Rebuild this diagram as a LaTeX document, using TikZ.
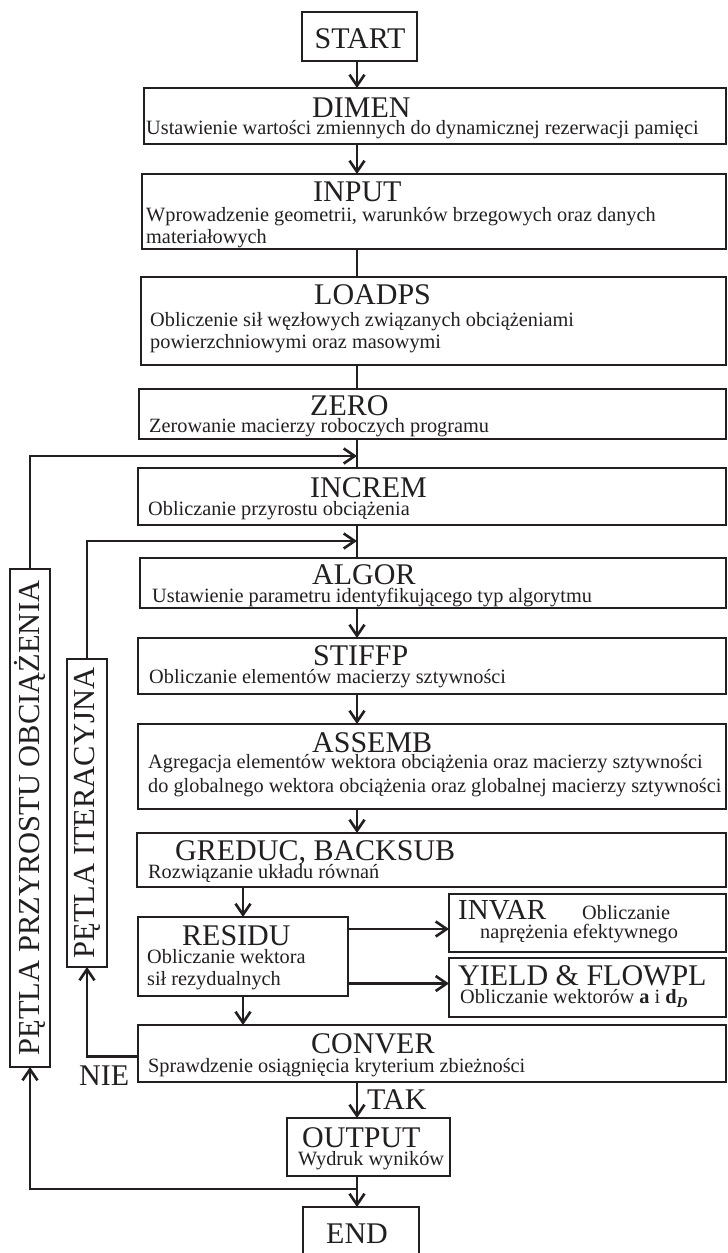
\documentclass[tikz,border=0pt]{standalone}
\usepackage{fontspec}
\setmainfont{Liberation Serif}
\usetikzlibrary{arrows.meta}
\definecolor{ink}{RGB}{35,31,32}
\newcommand\mybox[5]{\node[box, minimum width={#4-#2}, minimum height={#5-#3}] (#1) at (#2,#3) {};}
\begin{document}
\begin{tikzpicture}[x=1pt,y=-1pt,
  box/.style={draw=ink, line width=2.8pt, inner sep=0pt, outer sep=0pt, anchor=north west},
  ttl/.style={anchor=base west, inner sep=0pt, text=ink, font=\fontsize{30}{32}\selectfont},
  sub/.style={anchor=base west, inner sep=0pt, text=ink, font=\fontsize{20.3}{24}\selectfont},
  vlbl/.style={inner sep=0pt, text=ink, rotate=90, font=\fontsize{30.5}{32}\selectfont},
  conn/.style={draw=ink, line width=2.6pt},
  arr/.style={conn, -{Straight Barb[length=11pt,width=15pt]}}]
\useasboundingbox (0,0) rectangle (728,1253);
\clip (0,0) rectangle (728,1253);
\fill[white] (0,0) rectangle (728,1253);

% boxes
\mybox{start}{302}{12}{417}{61}
\mybox{dimen}{144}{88}{726}{144}
\mybox{input}{142}{174}{726}{249}
\mybox{loadps}{141}{277}{726}{365}
\mybox{zero}{139}{389}{726}{439}
\mybox{increm}{138}{468}{726}{525}
\mybox{algor}{140}{558}{726}{608}
\mybox{stiffp}{138}{638}{726}{694}
\mybox{assemb}{138}{724}{726}{809}
\mybox{greduc}{137}{833}{726}{887}
\mybox{residu}{138}{917}{348}{996}
\mybox{invar}{449}{894}{726}{952}
\mybox{yield}{449}{958}{726}{1017}
\mybox{conver}{138}{1025}{726}{1082}
\mybox{output}{287}{1118}{450}{1176}
\mybox{end}{303}{1207}{419}{1275}
\mybox{outer}{10}{569}{50}{1067}
\mybox{inner}{67}{659}{107}{967}

% texts
\node[ttl, anchor=base] (t-start) at (360,48) {START};
\node[ttl] (t-dimen) at (312,117) {DIMEN};
\node[sub] (s-dimen) at (146,134) {Ustawienie wartości zmiennych do dynamicznej rezerwacji pamięci};
\node[ttl] (t-input) at (313,201) {INPUT};
\node[sub] (s-input1) at (146,221) {Wprowadzenie geometrii, warunków brzegowych oraz danych};
\node[sub] (s-input2) at (146,243) {materiałowych};
\node[ttl] (t-loadps) at (314,304) {LOADPS};
\node[sub] (s-loadps1) at (150,326) {Obliczenie sił węzłowych związanych obciążeniami};
\node[sub] (s-loadps2) at (150,348) {powierzchniowymi oraz masowymi};
\node[ttl] (t-zero) at (310,415) {ZERO};
\node[sub] (s-zero) at (149,432) {Zerowanie macierzy roboczych programu};
\node[ttl] (t-increm) at (310,497) {INCREM};
\node[sub] (s-increm) at (148,515) {Obliczanie przyrostu obciążenia};
\node[ttl] (t-algor) at (312,584) {ALGOR};
\node[sub] (s-algor) at (152,602) {Ustawienie parametru identyfikującego typ algorytmu};
\node[ttl] (t-stiffp) at (313,665) {STIFFP};
\node[sub] (s-stiffp) at (149,683) {Obliczanie elementów macierzy sztywności};
\node[ttl] (t-assemb) at (312,752) {ASSEMB};
\node[sub] (s-assemb1) at (148,768) {Agregacja elementów wektora obciążenia oraz macierzy sztywności};
\node[sub] (s-assemb2) at (148,792) {do globalnego wektora obciążenia oraz globalnej macierzy sztywności};
\node[ttl] (t-greduc) at (175,860) {GREDUC, BACKSUB};
\node[sub] (s-greduc) at (148,878) {Rozwiązanie układu równań};
\node[ttl] (t-residu) at (182,945) {RESIDU};
\node[sub] (s-residu1) at (147,963) {Obliczanie wektora};
\node[sub] (s-residu2) at (147,985) {sił rezydualnych};
\node[ttl, font=\fontsize{29}{30}\selectfont] (t-invar) at (458,919) {INVAR};
\node[sub] (s-invar0) at (582,919) {Obliczanie};
\node[sub] (s-invar) at (480,938) {naprężenia efektywnego};
\node[ttl] (t-yield) at (458,985) {YIELD \& FLOWPL};
\node[sub] (s-yield) at (460,1003) {Obliczanie wektorów \textbf{a} i \textbf{d}\raisebox{-4pt}{\fontsize{15}{15}\selectfont\bfseries\itshape D}};
\node[ttl] (t-conver) at (311,1053) {CONVER};
\node[sub] (s-conver) at (148,1072) {Sprawdzenie osiągnięcia kryterium zbieżności};
\node[ttl] (t-output) at (302,1147) {OUTPUT};
\node[sub] (s-output) at (298,1165) {Wydruk wyników};
\node[ttl, anchor=base] (t-end) at (357,1243) {END};
\node[ttl] (tak) at (367,1109) {TAK};
\node[ttl] (nie) at (79,1085) {NIE};
\node[vlbl] (l-outer) at (outer.center) {PĘTLA PRZYROSTU OBCIĄŻENIA};
\node[vlbl] (l-inner) at (inner.center) {PĘTLA ITERACYJNA};

% connectors
\coordinate (colx) at (357,0);
\coordinate (m1) at (357,456);
\coordinate (m2) at (357,541);
\coordinate (j1) at (357,1189);
\draw[arr] (colx |- start.south) -- (colx |- dimen.north);
\draw[arr] (colx |- dimen.south) -- (colx |- input.north);
\draw[conn] (colx |- input.south) -- (colx |- loadps.north);
\draw[conn] (colx |- loadps.south) -- (colx |- zero.north);
\draw[conn] (colx |- zero.south) -- (colx |- increm.north);
\draw[conn] (colx |- increm.south) -- (colx |- algor.north);
\draw[arr] (colx |- algor.south) -- (colx |- stiffp.north);
\draw[arr] (colx |- stiffp.south) -- (colx |- assemb.north);
\draw[arr] (colx |- assemb.south) -- (colx |- greduc.north);
\draw[arr] (residu.north |- greduc.south) -- (residu.north);
\draw[arr] (residu.south) -- (residu.south |- conver.north);
\draw[arr] ([yshift=-6pt]residu.east |- invar.west) -- ([yshift=-6pt]invar.west);
\draw[arr] ([yshift=4pt]residu.east |- yield.west) -- ([yshift=4pt]yield.west);
\draw[arr] (colx |- conver.south) -- (colx |- output.north);
\draw[arr] (colx |- output.south) -- (colx |- end.north);
\draw[arr] ([yshift=-3pt]conver.west) -| (inner.south);
\draw[arr] (inner.north) |- (m2);
\draw[arr] (j1) -| (outer.south);
\draw[arr] (outer.north) |- (m1);
\end{tikzpicture}
\end{document}
